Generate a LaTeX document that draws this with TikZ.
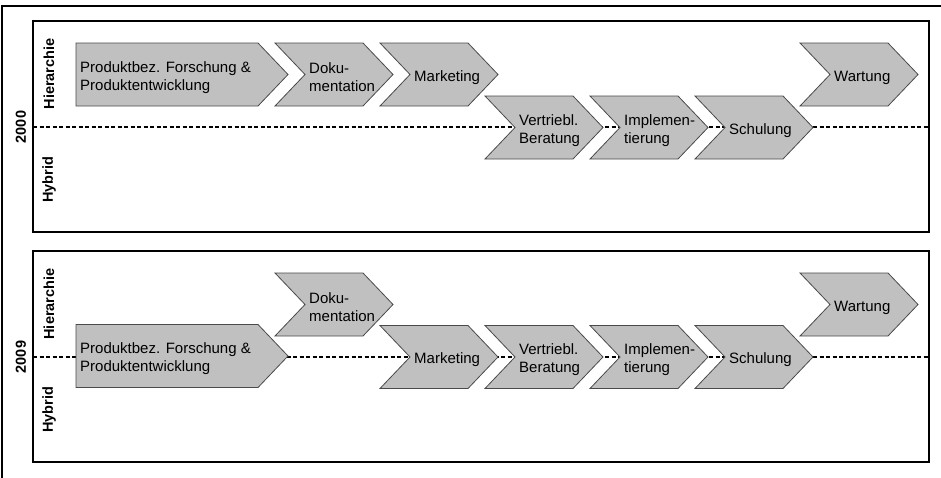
\documentclass[tikz,border=0pt]{standalone}
\usepackage{fontspec}
\setmainfont{Liberation Sans}
\definecolor{chevgray}{HTML}{C0C0C0}
\definecolor{chevedge}{HTML}{4A4A4A}
\tikzset{
  chevfill/.style={fill=chevgray, draw=chevedge, line width=0.8pt, line join=miter},
  chevtext/.style={anchor=west, align=left, inner sep=0pt, font=\fontsize{15}{18}\selectfont},
  framebox/.style={draw=black, line width=1.6pt, inner sep=0pt, outer sep=0pt},
  outerframe/.style={draw=black, line width=1.6pt},
  lane/.style={draw=black, line width=1.3pt, dash pattern=on 4pt off 2.5pt},
  sidelabel/.style={rotate=90, inner sep=0pt, font=\bfseries\fontsize{14.5}{17}\selectfont},
}
% #1 name, #2 left x, #3 body right x, #4 mid y, #5 notch depth, #6 text
\newcommand\chev[6]{%
  \path[chevfill] (#2,{#4-31.5}) -- (#3,{#4-31.5}) -- ({#3+30},#4) -- (#3,{#4+31.5})
     -- (#2,{#4+31.5}) -- ({#2+#5},#4) -- cycle;
  \node[chevtext] (#1) at ({#2+#5+4},{#4+3}) {#6};}
\begin{document}
\begin{tikzpicture}[x=1pt,y=-1pt]
\useasboundingbox (0,0) rectangle (941,477);
% outer frame (cropped on right and bottom)
\coordinate (obl) at (2,490);
\coordinate (otr) at (950,6);
\draw[outerframe] (obl) |- (otr);
% inner boxes
\node[framebox, minimum width=896pt, minimum height=211pt] (box1) at (481,126.5) {};
\node[framebox, minimum width=896pt, minimum height=211pt] (box2) at (481,356.5) {};
% lanes
\coordinate (l1a) at (33,127); \coordinate (l1b) at (929,127);
\coordinate (l2a) at (33,357); \coordinate (l2b) at (929,357);
\draw[lane] (l1a) -- (l1b);
\draw[lane] (l2a) -- (l2b);
% side labels
\node[sidelabel] (y1) at (21,127) {2000};
\node[sidelabel] (h1) at (49,74) {Hierarchie};
\node[sidelabel] (b1) at (49,180) {Hybrid};
\node[sidelabel] (y2) at (21,357) {2009};
\node[sidelabel] (h2) at (49,304) {Hierarchie};
\node[sidelabel] (b2) at (49,410) {Hybrid};
% box 2000
\chev{p1}{76}{258}{74.5}{0}{Produktbez. Forschung \&\\Produktentwicklung}
\chev{d1}{275}{363}{74.5}{30}{Doku-\\mentation}
\chev{m1}{380}{468}{74.5}{30}{Marketing}
\chev{v1}{485}{573}{127.5}{30}{Vertriebl.\\Beratung}
\chev{i1}{590}{678}{127.5}{30}{Implemen-\\tierung}
\chev{s1}{695}{783}{127.5}{30}{Schulung}
\chev{w1}{800}{888}{74.5}{30}{Wartung}
% box 2009
\chev{p2}{76}{258}{356}{0}{Produktbez. Forschung \&\\Produktentwicklung}
\chev{d2}{275}{363}{304.5}{30}{Doku-\\mentation}
\chev{m2}{380}{468}{357}{30}{Marketing}
\chev{v2}{485}{573}{357}{30}{Vertriebl.\\Beratung}
\chev{i2}{590}{678}{357}{30}{Implemen-\\tierung}
\chev{s2}{695}{783}{357}{30}{Schulung}
\chev{w2}{800}{888}{304.5}{30}{Wartung}
\end{tikzpicture}
\end{document}
